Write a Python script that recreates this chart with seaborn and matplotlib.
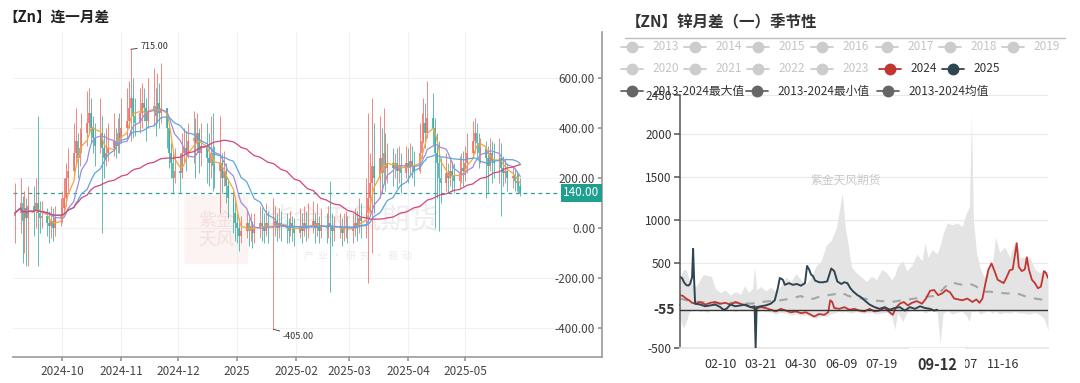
import numpy as np
import pandas as pd
import matplotlib.pyplot as plt
import matplotlib.transforms as mtransforms
from matplotlib.lines import Line2D
from matplotlib.patches import FancyBboxPatch
from matplotlib.ticker import FuncFormatter
import seaborn as sns

# ---------------- 左图：【Zn】连一月差 日K ----------------
kline_start = "2024-09-06"
kline_end = "2025-05-30"
first_open = 50
kline_close = [
    60, 100, 30, 80, 40, 90, 70, 100, 60, 40, 50, 20, 10, 30, 0, 40, 50,            # 2024-09
    80, 120, 200, 230, 300, 350, 280, 320, 380, 420, 460, 400, 360, 330,
    380, 320, 280, 300, 320, 350, 330, 380, 360,                                    # 2024-10
    400, 430, 480, 520, 450, 420, 460, 500, 480, 430, 470,
    490, 450, 500, 460, 480, 400, 300, 260, 200, 230,                               # 2024-11
    220, 300, 320, 300, 350, 360, 340, 380, 300, 330,
    280, 260, 300, 250, 230, 260, 200, 230, 170, 120, 60, 20,                       # 2024-12
    0, -30, -10, 20, -10, 10, -20, 0, 20, 10, -10, 20, 0,
    10, 30, 0, 20, 10, 0, -10, 20, 0, -20,                                          # 2025-01
    10, -10, 20, 0, 10, 30, 0, 20, -10, 10,
    0, 20, 10, -10, 0, 10, -20, 0, 10, -10,                                         # 2025-02
    0, 20, 10, 40, 30, 60, 120, 180, 250, 200,
    280, 220, 300, 240, 260, 240, 260, 230, 250, 220, 260,                          # 2025-03
    240, 270, 250, 230, 300, 350, 420, 380, 440, 400, 300,
    260, 200, 180, 220, 200, 230, 210, 190, 220, 240, 230,                          # 2025-04
    260, 300, 350, 380, 340, 300, 320, 280, 250, 300, 270,
    260, 280, 240, 220, 230, 200, 210, 190, 180, 170, 140,                          # 2025-05
]
kline_high = [
    180, 200, 130, 150, 120, 170, 170, 200, 450, 110, 110, 80, 70, 90, 80, 90, 120,
    150, 200, 260, 320, 420, 480, 380, 400, 460, 550, 560, 520, 450, 420,
    520, 450, 380, 400, 420, 460, 400, 440, 460,
    520, 560, 590, 715, 600, 520, 560, 580, 560, 520, 600,
    640, 560, 620, 580, 660, 480, 420, 340, 300, 320,
    300, 380, 400, 390, 420, 470, 440, 460, 400, 420,
    420, 380, 450, 460, 330, 450, 300, 310, 260, 200, 150, 120,
    60, 40, 50, 70, 40, 60, 30, 60, 90, 80, 60, 100, 70,
    120, 90, 60, 80, 70, 60, 40, 70, 50, 40,
    80, 60, 90, 70, 100, 110, 60, 100, 50, 80,
    60, 90, 190, 60, 50, 60, 40, 60, 70, 50,
    60, 80, 70, 120, 100, 200, 460, 300, 520, 420,
    450, 400, 480, 380, 340, 320, 300, 320, 330, 300, 330,
    320, 340, 330, 310, 420, 460, 520, 500, 590, 540, 440,
    380, 350, 280, 300, 260, 280, 270, 260, 290, 300, 310,
    330, 380, 430, 440, 420, 380, 360, 350, 330, 360, 350,
    340, 360, 340, 290, 280, 260, 250, 240, 230, 220, 200,
]
kline_low = [
    -60, -20, -140, -100, -150, -150, -30, 0, -150, -20, 0, -30, -60, -40, -50, -30, 10,
    20, 60, 90, 150, 200, 250, 200, 250, 300, 330, 380, 340, 300, 250,
    300, -20, 200, 250, 270, 290, 280, 300, 300,
    340, 360, 400, 350, 360, 370, 380, 400, 430, 350, 400,
    410, 370, 420, 400, 420, 320, 240, 200, 140, 180,
    140, 200, 260, 230, 280, 260, 200, 300, 220, 250,
    180, 170, 200, 150, 160, 60, 140, 170, 100, 40, -20, -50,
    -60, -90, -60, -40, -70, -50, -80, -60, -40, -50, -60, -30, -60,
    -405, -30, -50, -40, -50, -60, -60, -30, -50, -70,
    -40, -60, -30, -50, -40, -20, -60, -30, -60, -40,
    -60, -40, -255, -70, -50, -40, -70, -50, -40, -60,
    -60, -30, -50, -20, -40, -40, -220, 60, -100, 60,
    120, 140, 180, 150, 180, 170, 200, 160, 180, 140, 200,
    180, 210, 200, 170, 220, 280, 340, 320, 360, 330, 0,
    120, -10, 100, 150, 140, 170, 150, 140, 160, 180, 170,
    190, 220, 280, 300, 280, 240, 260, 120, 140, 230, 180,
    200, 180, 50, 170, 180, 150, 160, 150, 150, 140, 130,
]
ma_windows = [5, 10, 20, 60]
last_price = 140
peak_point = ("2024-11-06", 715)
trough_point = ("2025-01-20", -405)
month_ticks = ["2024-10-01", "2024-11-01", "2024-12-01", "2025-01-01",
               "2025-02-01", "2025-03-01", "2025-04-01", "2025-05-01"]
left_yticks = [-400, -200, 0, 200, 400, 600]

# ---------------- 右图：【ZN】锌月差（一）季节性 ----------------
band_day = [0, 3, 6, 9, 12, 16, 20, 23, 27, 31, 35, 40, 45, 50, 55, 60, 64, 68, 72, 74,
            76, 80, 85, 90, 95, 100, 105, 110, 115, 120, 125, 130, 135, 140, 145, 150, 155, 158, 161, 164,
            167, 170, 175, 180, 185, 190, 195, 200, 205, 210, 213, 216, 221, 225, 230, 235, 240, 243, 246, 250,
            255, 258, 261, 265, 270, 275, 280, 284, 287, 289, 291, 294, 298, 302, 306, 310, 313, 317, 322, 327,
            332, 334, 337, 342, 344, 347, 352, 357, 361, 365]
band_max = [330, 410, 420, 300, 250, 220, 300, 360, 350, 340, 200, 150, 180, 120, 160, 130, 230, 150, 200, 460,
            180, 220, 170, 210, 160, 230, 330, 280, 370, 300, 250, 330, 460, 520, 700, 760, 900, 1100, 1310, 900,
            700, 450, 380, 330, 280, 340, 300, 420, 380, 300, 350, 460, 520, 400, 470, 600, 520, 730, 560, 650,
            600, 700, 840, 960, 940, 960, 920, 1080, 1150, 2220, 1000, 620, 420, 330, 450, 500, 800, 620, 680, 560,
            740, 740, 560, 560, 580, 560, 420, 380, 420, 350]
band_min = [-150, -260, -200, -80, -60, -50, -70, -60, -80, -50, -60, -50, -60, -50, -70, -50, -60, -50, -60, -70,
            -80, -60, -70, -80, -100, -80, -90, -110, -100, -120, -110, -130, -150, -120, -130, -100, -80, -70, -80, -70,
            -80, -90, -70, -90, -90, -80, -100, -90, -80, -120, -280, -90, -190, -80, -60, -70, -60, -90, -70, -50,
            -80, -440, -90, -60, -100, -80, -70, -120, -190, -60, -80, -60, -100, -80, -60, -90, -70, -100, -80, -90,
            -70, -80, -90, -90, -100, -100, -80, -110, -150, -290]
mean_day = [0, 10, 20, 30, 40, 50, 60, 70, 80, 90, 100, 110, 120, 127, 133, 140, 147, 153, 160, 167,
            175, 183, 190, 200, 210, 220, 233, 243, 253, 260, 266, 272, 280, 288, 294, 300, 308, 315, 324, 330,
            337, 346, 352, 358, 365]
mean_val = [80, 50, 40, 30, 20, 30, 30, 20, 40, 50, 60, 80, 110, 70, 80, 110, 120, 130, 150, 110,
            90, 80, 60, 50, 40, 60, 80, 100, 110, 180, 250, 260, 240, 250, 220, 160, 160, 150, 140, 140,
            130, 90, 80, 70, 50]
y2024_day = [0, 3, 6, 9, 12, 16, 20, 25, 30, 35, 40, 45, 50, 55, 60, 65, 70, 75, 80, 85,
             90, 95, 100, 105, 110, 115, 120, 125, 130, 133, 138, 143, 147, 149, 151, 153, 158, 163, 168, 173,
             178, 183, 188, 193, 198, 203, 208, 211, 214, 218, 222, 226, 230, 235, 240, 244, 248, 252, 256, 260,
             264, 268, 272, 276, 280, 285, 290, 294, 297, 300, 303, 306, 309, 312, 315, 318, 321, 324, 327, 330,
             334, 336, 339, 342, 344, 346, 349, 352, 355, 358, 361, 363, 365]
y2024_val = [120, 110, 80, 60, 30, 20, 40, 10, 30, 40, 20, 30, 10, 40, 20, 0, -20, -40, -20, -30,
             -50, -70, -40, -60, -80, -70, -90, -80, -110, -130, -100, -110, -80, 60, 40, -30, -40, -20, -50, -40,
             -60, -70, -40, -70, -60, -30, -80, -110, -30, 20, 40, 0, 30, 50, 20, 80, 170, 180, 120, 140,
             180, 150, 80, 70, 60, 80, 40, 70, 30, 80, 260, 420, 490, 400, 300, 280, 260, 330, 410, 420,
             725, 450, 400, 420, 560, 420, 300, 260, 200, 220, 400, 380, 320]
y2025_day = [0, 2, 4, 6, 8, 10, 12, 13, 14, 15, 20, 25, 30, 35, 40, 43, 46, 50, 55, 60,
             65, 70, 74, 75, 76, 80, 85, 90, 94, 97, 99, 102, 104, 108, 112, 116, 120, 124, 126, 128,
             130, 132, 134, 138, 142, 146, 150, 153, 156, 160, 163, 166, 169, 172, 176, 179, 183, 188, 193, 198,
             203, 208, 213, 218, 223, 228, 233, 238, 243, 248, 252, 255]
y2025_val = [330, 320, 270, 240, 230, 250, 330, 660, 300, 20, 10, -10, 0, 10, -20, -50, -40, 10, -10, 0,
             10, -20, -10, -500, -20, -10, 0, 20, 60, 200, 320, 300, 240, 260, 240, 250, 230, 260, 460, 420,
             360, 340, 290, 270, 270, 280, 430, 400, 280, 250, 270, 260, 200, 160, 120, 100, 60, 10, -20, -40,
             -20, -50, -30, -20, -60, -20, -40, -10, -30, -40, -60, -50]
cursor_value = -55
cursor_day = 255
right_yticks = [-500, 0, 500, 1000, 1500, 2000, 2450]
right_xtick_days = [40, 80, 120, 160, 200, 280, 320]
gray_years = ["2013", "2014", "2015", "2016", "2017", "2018", "2019",
              "2020", "2021", "2022", "2023"]
stat_labels = ["2013-2024最大值", "2013-2024最小值", "2013-2024均值"]

# ---------------- 样式 ----------------
UP, DOWN = "#ee6a64", "#3aab9d"
MA_COLORS = ["#f4a53c", "#9d8ddf", "#5aa6e0", "#d4457c"]
RED24, DARK25 = "#c23531", "#2f4554"

sns.set_theme(style="white")
plt.rcParams["font.family"] = ["Noto Sans CJK SC", "DejaVu Sans"]
plt.rcParams["axes.unicode_minus"] = False

W, H = 1080, 383
fig = plt.figure(figsize=(W / 100, H / 100), dpi=100)


def fx(px):
    return px / W


def fy(py):
    return 1 - py / H


# ======== 左图 ========
ax = fig.add_axes([fx(13), fy(357), fx(602) - fx(13), fy(32) - fy(357)])
dates = pd.bdate_range(kline_start, kline_end)
k = pd.DataFrame({"date": dates, "close": kline_close, "high": kline_high, "low": kline_low})
k["open"] = k["close"].shift(1).fillna(first_open)
k["high"] = k[["high", "open", "close"]].max(axis=1)
k["low"] = k[["low", "open", "close"]].min(axis=1)
col = np.where(k["close"] >= k["open"], UP, DOWN)

ax.vlines(k["date"], k["low"], k["high"], colors=col, lw=0.7, alpha=0.8, zorder=2)
body = (k["close"] - k["open"]).abs().clip(lower=6)
ax.bar(k["date"], body, bottom=k[["open", "close"]].min(axis=1), width=0.9,
       color=col, alpha=0.8, linewidth=0, zorder=2)

for w, c in zip(ma_windows, MA_COLORS):
    k[f"ma{w}"] = k["close"].rolling(w, min_periods=1).mean()
    sns.lineplot(data=k, x="date", y=f"ma{w}", ax=ax, color=c, linewidth=0.9, zorder=3)

ax.set_xlim(pd.Timestamp("2024-09-05"), pd.Timestamp("2025-07-12"))
ax.set_ylim(-516, 784)
ax.set_xlabel("")
ax.set_ylabel("")

ticks = pd.to_datetime(month_ticks)
ax.set_xticks(ticks)
ax.set_xticklabels([t.strftime("%Y") if t.month == 1 else t.strftime("%Y-%m") for t in ticks])
ax.tick_params(axis="x", direction="out", length=3, pad=3, labelsize=8.5,
               labelcolor="#444", color="#999", bottom=True)

ax.yaxis.tick_right()
ax.set_yticks(left_yticks)
ax.yaxis.set_major_formatter(FuncFormatter(lambda v, p: f"{v:.2f}"))
ax.tick_params(axis="y", direction="in", length=3, pad=-5, labelsize=8.5,
               labelcolor="#444", color="#999", right=True)
for lab in ax.get_yticklabels():
    lab.set_horizontalalignment("right")

ax.grid(True, color="#f1f1f1", lw=0.8)
for s in ["top", "left"]:
    ax.spines[s].set_visible(False)
for s in ["right", "bottom"]:
    ax.spines[s].set_color("#999")
    ax.spines[s].set_linewidth(1.2)

# 最新价虚线与标签
ax.axhline(last_price, xmax=0.94, color="#2d9c93", lw=0.9, ls=(0, (3, 3)), zorder=1)
blend = mtransforms.blended_transform_factory(ax.transAxes, ax.transData)
ax.text(0.996, last_price, f"{last_price:.2f}", transform=blend, ha="right", va="center",
        fontsize=8.5, color="white",
        bbox=dict(facecolor="#1f9f90", edgecolor="none", pad=1.6), zorder=6)

# 最高/最低标注
for d, v, off in [(peak_point[0], peak_point[1], (7, 2)), (trough_point[0], trough_point[1], (7, -5))]:
    ax.annotate(f"{v:.2f}", xy=(pd.Timestamp(d), v), xytext=off, textcoords="offset points",
                fontsize=6.5, color="#333", va="center",
                arrowprops=dict(arrowstyle="-", color="#333", lw=0.6, shrinkA=0, shrinkB=0))

# 水印
seal = FancyBboxPatch((0.295, 0.29), 0.1, 0.205, boxstyle="round,pad=0.004",
                      transform=ax.transAxes, fc="#f4dcda", ec="none", alpha=0.3, zorder=1)
ax.add_patch(seal)
ax.text(0.345, 0.39, "紫金\n天风", transform=ax.transAxes, ha="center", va="center",
        fontsize=13, color="#eec4c1", alpha=0.45, zorder=1, linespacing=1.1)
ax.text(0.575, 0.42, "紫金天风期货", transform=ax.transAxes, ha="center", va="center",
        fontsize=21, color="#dedede", alpha=0.5, zorder=1)
ax.text(0.585, 0.31, "产  业  ·  研  究  ·  驱  动", transform=ax.transAxes, ha="center", va="center",
        fontsize=7, color="#dddddd", alpha=0.6, zorder=1)

fig.text(fx(3), fy(17), "【Zn】连一月差", fontsize=10.5, fontweight="bold", color="#222",
         ha="left", va="center")

# ======== 右图 ========
base = pd.Timestamp("2024-01-01")


def to_date(days):
    return base + pd.to_timedelta(days, unit="D")


ax2 = fig.add_axes([fx(680), fy(348.3), fx(1048) - fx(680), fy(95.3) - fy(348.3)])
ax2.fill_between(to_date(band_day), band_min, band_max, color="#e4e4e4", lw=0, zorder=1)

mean_df = pd.DataFrame({"date": to_date(mean_day), "val": mean_val})
sns.lineplot(data=mean_df, x="date", y="val", ax=ax2, color="#a5a5a5", linewidth=1.5, zorder=2)
ax2.lines[-1].set_dashes([4, 4])

df24 = pd.DataFrame({"date": to_date(y2024_day), "val": y2024_val})
sns.lineplot(data=df24, x="date", y="val", ax=ax2, color=RED24, linewidth=1.3, zorder=3)
df25 = pd.DataFrame({"date": to_date(y2025_day), "val": y2025_val})
sns.lineplot(data=df25, x="date", y="val", ax=ax2, color=DARK25, linewidth=1.4, zorder=4)

ax2.axhline(cursor_value, color="#333", lw=1.0, zorder=5)

ax2.set_xlim(base, to_date(365))
ax2.set_ylim(-500, 2450)
ax2.set_xlabel("")
ax2.set_ylabel("")
ax2.set_yticks(right_yticks)
ax2.tick_params(axis="y", direction="out", length=4, pad=2, labelsize=8.5,
                labelcolor="#333", color="#666", left=True)
xt = to_date(right_xtick_days)
ax2.set_xticks(xt)
ax2.set_xticklabels([t.strftime("%m-%d") for t in xt])
ax2.tick_params(axis="x", length=0, pad=7, labelsize=9, labelcolor="#333")
ax2.yaxis.grid(True, color="#e9e9e9", lw=0.8)
for s in ["top", "right"]:
    ax2.spines[s].set_visible(False)
ax2.spines["bottom"].set_color("#e6e6e6")
ax2.spines["left"].set_color("#555")
ax2.spines["left"].set_linewidth(1.1)

# 十字光标标签
ax2.annotate(f"{cursor_value}", xy=(0, cursor_value), xycoords=("axes fraction", "data"),
             xytext=(-4, 0), textcoords="offset points", ha="right", va="center",
             fontsize=10, fontweight="bold", color="#333",
             bbox=dict(facecolor="white", edgecolor="none", pad=3), zorder=10, annotation_clip=False)
ax2.annotate(to_date(cursor_day).strftime("%m-%d"), xy=(to_date(cursor_day), 0),
             xycoords=("data", "axes fraction"), xytext=(0, -6), textcoords="offset points",
             ha="center", va="top", fontsize=10.5, fontweight="bold", color="#333",
             bbox=dict(facecolor="white", edgecolor="none", pad=6), zorder=10, annotation_clip=False)

ax2.text(0.45, 0.665, "紫金天风期货", transform=ax2.transAxes, ha="center", va="center",
         fontsize=8.5, color="#c8c8c8", zorder=1)

# 标题与图例
fig.text(fx(626), fy(22), "【ZN】锌月差（一）季节性", fontsize=11.2, fontweight="bold",
         color="#333", ha="left", va="center")
fig.add_artist(Line2D([fx(625), fx(1065)], [fy(38), fy(38)], transform=fig.transFigure,
                      color="#bdbdbd", lw=1))


def legend_item(x, y, label, mcolor, tcolor):
    fig.add_artist(Line2D([fx(x - 11), fx(x + 11)], [fy(y), fy(y)], transform=fig.transFigure,
                          color=mcolor, lw=1.3))
    fig.add_artist(Line2D([fx(x)], [fy(y)], transform=fig.transFigure, marker="o", ms=7.5,
                          color=mcolor, lw=0))
    fig.text(fx(x + 20), fy(y), label, fontsize=8.5, color=tcolor, ha="left", va="center")


row1_x = [632, 695, 758, 822, 887, 950, 1013]
row2_x = [632, 695, 758, 822]
for xx, yr in zip(row1_x, gray_years[:7]):
    legend_item(xx, 47, yr, "#cccccc", "#c4c4c4")
for xx, yr in zip(row2_x, gray_years[7:]):
    legend_item(xx, 69, yr, "#cccccc", "#c4c4c4")
legend_item(890, 69, "2024", RED24, "#333")
legend_item(953, 69, "2025", DARK25, "#333")
for xx, lab in zip([632, 757, 888], stat_labels):
    legend_item(xx, 91, lab, "#666666", "#333")

fig.savefig("out.png", dpi=100, facecolor="white")
